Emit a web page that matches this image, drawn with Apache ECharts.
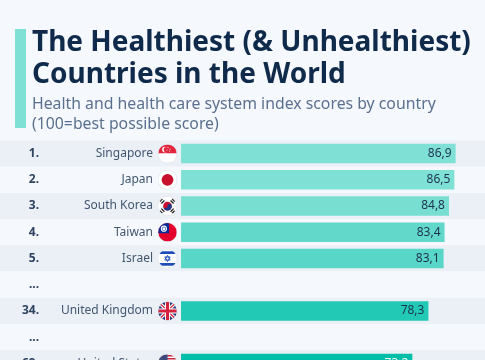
<!DOCTYPE html>
<html>
<head>
<meta charset="utf-8">
<style>html,body{margin:0;padding:0;background:#f5f8fc}#c{width:485px;height:360px}</style>
<script src="https://cdn.jsdelivr.net/npm/echarts@6/dist/echarts.min.js"></script>
</head>
<body>
<div id="c"></div>
<script>
const ranks = ['1.', '2.', '3.', '4.', '5.', '...', '34.', '...', '69.'];
const countries = ['Singapore', 'Japan', 'South Korea', 'Taiwan', 'Israel', '', 'United Kingdom', '', 'United States'];
const scores = [86.9, 86.5, 84.8, 83.4, 83.1, null, 78.3, null, 73.2];
const flagKeys = ['sg', 'jp', 'kr', 'tw', 'il', '', 'uk', '', 'us'];
const barColors = ['#7fe0d5', '#7fe0d5', '#78ded2', '#62d8ca', '#58d6c7', '#40d0c0', '#22c9b5', '#10c4af', '#00bea8'];
const titleText = 'The Healthiest (& Unhealthiest)\nCountries in the World';
const subtitleText = 'Health and health care system index scores by country\n(100=best possible score)';

const flagArt = {
  sg: '<rect width="36" height="18" fill="#e4263c"/><rect y="18" width="36" height="18" fill="#fff"/><circle cx="13" cy="10" r="5.5" fill="#fff"/><circle cx="15.5" cy="10" r="5" fill="#e4263c"/><circle cx="19" cy="6" r="1" fill="#fff"/><circle cx="23" cy="9" r="1" fill="#fff"/><circle cx="17" cy="11" r="1" fill="#fff"/><circle cx="22" cy="13" r="1" fill="#fff"/>',
  jp: '<rect width="36" height="36" fill="#fff"/><circle cx="18" cy="18" r="11.5" fill="#c8102e"/>',
  kr: '<rect width="36" height="36" fill="#fff"/><circle cx="18" cy="18" r="8.500" fill="#c8102e"/><path d="M9.500 18a8.500 8.500 0 0 0 17 0a4.250 4.250 0 0 0-8.500 0a4.250 4.250 0 0 1-8.500 0z" fill="#1a3a8a"/><g stroke="#222" stroke-width="2.6"><path d="M3 9l5-5M6 13l6-6M24 7l6 6M27 4l5 5M3 27l5 5M6 23l6 6M24 29l6-6M27 32l5-5"/></g>',
  tw: '<rect width="36" height="36" fill="#e4002b"/><rect width="21" height="20" fill="#0a2a9a"/><circle cx="11" cy="11" r="6" fill="#fff"/><circle cx="11" cy="11" r="4" fill="#0a2a9a"/><circle cx="11" cy="11" r="3" fill="#fff"/>',
  il: '<rect width="36" height="36" fill="#fff"/><rect y="4" width="36" height="5" fill="#1e4db7"/><rect y="27" width="36" height="5" fill="#1e4db7"/><path d="M18 12l5.200 9h-10.400zM18 24l-5.200-9h10.400z" fill="none" stroke="#1e4db7" stroke-width="1.800"/>',
  uk: '<rect width="36" height="36" fill="#1c2f73"/><path d="M0 0L36 36M36 0L0 36" stroke="#fff" stroke-width="7"/><path d="M0 0L36 36M36 0L0 36" stroke="#d4213d" stroke-width="2.500"/><path d="M18 0V36M0 18H36" stroke="#fff" stroke-width="10"/><path d="M18 0V36M0 18H36" stroke="#d4213d" stroke-width="6"/>',
  us: '<rect width="36" height="36" fill="#fff"/><path d="M0 3H36M0 9H36M0 15H36M0 21H36M0 27H36M0 33H36" stroke="#c8283c" stroke-width="3"/><rect width="18" height="18" fill="#3c4a80"/>'
};
function flagUri(key) {
  const svg = '<svg xmlns="http://www.w3.org/2000/svg" width="72" height="72" viewBox="-1.500 -1.500 39 39">' +
    '<defs><clipPath id="k"><circle cx="18" cy="18" r="18"/></clipPath></defs>' +
    '<circle cx="18" cy="18" r="19.500" fill="#e6e9ef"/><g clip-path="url(#k)">' + flagArt[key] + '</g></svg>';
  return 'data:image/svg+xml;charset=utf-8,' + encodeURIComponent(svg);
}
const flagRich = {};
flagKeys.filter(Boolean).forEach(k => {
  flagRich[k] = { width: 20, height: 20, backgroundColor: { image: flagUri(k) } };
});

const FONT = '"Noto Sans"';
const chart = echarts.init(document.getElementById('c'), null, { renderer: 'canvas' });
const labelAxis = (data, offset, extra) => ({
  type: 'category', inverse: true, data, position: 'left', offset,
  axisLine: { show: false }, axisTick: { show: false }, splitLine: { show: false },
  axisLabel: Object.assign({ interval: 0, margin: 0, fontFamily: FONT }, extra)
});
chart.setOption({
  animation: false,
  backgroundColor: '#f5f8fc',
  title: [
    { text: titleText, left: 32, top: 27.5, padding: 0,
      textStyle: { fontFamily: FONT, fontSize: 28, fontWeight: 700, lineHeight: 31.5, color: '#0f2a4a' } },
    { text: subtitleText, left: 32, top: 94, padding: 0,
      textStyle: { fontFamily: FONT, fontSize: 15.8, fontWeight: 400, lineHeight: 20, color: '#5b7090' } }
  ],
  graphic: [{ type: 'rect', shape: { x: 15, y: 29, width: 11, height: 99 }, style: { fill: '#7fe0d5' } }],
  grid: { left: 0, right: 0, top: 140.5, height: 236, containLabel: false, outerBoundsMode: 'none' },
  xAxis: { type: 'value', min: -57.3, max: 96.2, show: false },
  yAxis: [
    Object.assign(labelAxis(countries, -153, { fontSize: 12, color: '#42566f', align: 'right' }), {
      splitArea: { show: true, interval: 0, areaStyle: { color: ['#ebf0f6', '#f5f8fc'] } }
    }),
    labelAxis(ranks, -39, { fontSize: 12, fontWeight: 700, color: '#2e4360', align: 'right' }),
    labelAxis(flagKeys, -177.5, {
      align: 'right',
      formatter: v => v ? '{' + v + '|}' : '',
      rich: flagRich
    })
  ],
  series: [{
    type: 'bar', yAxisIndex: 0, barWidth: 19.5,
    data: scores.map((v, i) => ({
      value: v === null ? '-' : v,
      itemStyle: { color: barColors[i] },
      label: { color: i === scores.length - 1 ? '#ffffff' : '#1c3350', textBorderWidth: 0 }
    })),
    label: {
      show: true, position: 'insideRight', distance: 4,
      fontFamily: FONT, fontSize: 12, textBorderWidth: 0,
      formatter: p => p.value === '-' ? '' : p.value.toFixed(1).replace('.', ',')
    }
  }]
});
</script>
</body>
</html>
